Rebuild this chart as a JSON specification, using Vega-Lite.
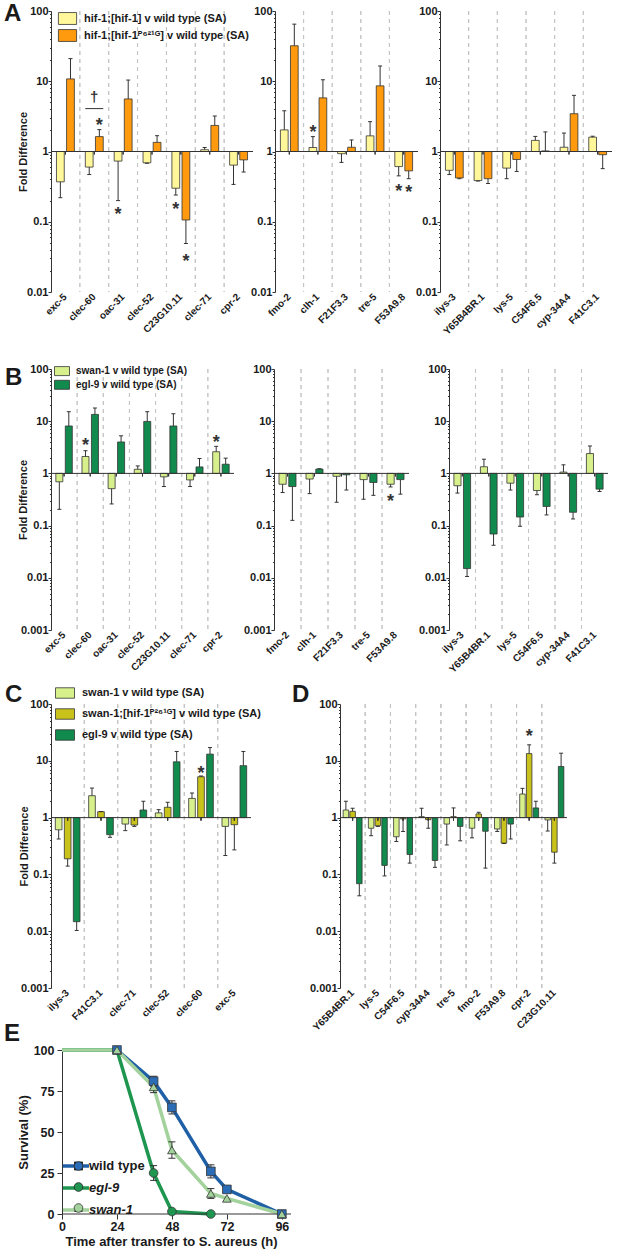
{
"$schema": "https://vega.github.io/schema/vega-lite/v6.json",
"padding": {"left": 3, "top": 2, "right": 0, "bottom": 0},
"background": "white",
"config": {
 "font": "Liberation Sans",
 "view": {"stroke": null},
 "axis": {"labelFont": "Liberation Sans", "titleFont": "Liberation Sans", "labelFontWeight": "bold", "titleFontWeight": "bold", "labelColor": "#1a1a1a", "titleColor": "#1a1a1a", "domainColor": "#333333", "tickColor": "#333333", "grid": false},
 "legend": {"labelFont": "Liberation Sans", "labelFontWeight": "bold", "labelColor": "#1a1a1a", "labelLimit": 400}
},
"datasets": {
 "A1": [
  {"gene":"exc-5","s":"h","v":0.37,"e":0.22},{"gene":"exc-5","s":"p","v":10.8,"e":21},
  {"gene":"clec-60","s":"h","v":0.6,"e":0.47},{"gene":"clec-60","s":"p","v":1.63,"e":2.05},
  {"gene":"oac-31","s":"h","v":0.73,"e":0.2},{"gene":"oac-31","s":"p","v":5.6,"e":10.4},
  {"gene":"clec-52","s":"h","v":0.69,"e":0.68},{"gene":"clec-52","s":"p","v":1.35,"e":1.68},
  {"gene":"C23G10.11","s":"h","v":0.3,"e":0.24},{"gene":"C23G10.11","s":"p","v":0.106,"e":0.049},
  {"gene":"clec-71","s":"h","v":1.06,"e":1.14},{"gene":"clec-71","s":"p","v":2.35,"e":3.2},
  {"gene":"cpr-2","s":"h","v":0.64,"e":0.34},{"gene":"cpr-2","s":"p","v":0.76,"e":0.51}],
 "A1s": [{"gene":"clec-60","s":"p","y":2.76,"t":"*"},{"gene":"oac-31","s":"h","y":0.145,"t":"*"},{"gene":"C23G10.11","s":"h","y":0.171,"t":"*"},{"gene":"C23G10.11","s":"p","y":0.031,"t":"*"}],
 "A1d": [{"gene":"clec-60","y":5.7,"t":"\u2020"}],
 "A1l": [{"gene":"clec-60","y":4.08}],
 "A2": [
  {"gene":"fmo-2","s":"h","v":2.03,"e":3.8},{"gene":"fmo-2","s":"p","v":32,"e":65},
  {"gene":"clh-1","s":"h","v":1.14,"e":1.63},{"gene":"clh-1","s":"p","v":5.8,"e":10.5},
  {"gene":"F21F3.3","s":"h","v":0.93,"e":0.7},{"gene":"F21F3.3","s":"p","v":1.15,"e":1.46},
  {"gene":"tre-5","s":"h","v":1.67,"e":2.66},{"gene":"tre-5","s":"p","v":8.6,"e":16.5},
  {"gene":"F53A9.8","s":"h","v":0.61,"e":0.45},{"gene":"F53A9.8","s":"p","v":0.53,"e":0.41}],
 "A2s": [{"gene":"clh-1","s":"h","y":2.18,"t":"*"},{"gene":"F53A9.8","s":"h","y":0.31,"t":"*"},{"gene":"F53A9.8","s":"p","y":0.3,"t":"*"}],
 "A3": [
  {"gene":"ilys-3","s":"h","v":0.54,"e":0.47},{"gene":"ilys-3","s":"p","v":0.42,"e":0.41},
  {"gene":"Y65B4BR.1","s":"h","v":0.385,"e":0.38},{"gene":"Y65B4BR.1","s":"p","v":0.41,"e":0.35},
  {"gene":"lys-5","s":"h","v":0.58,"e":0.41},{"gene":"lys-5","s":"p","v":0.77,"e":0.52},
  {"gene":"C54F6.5","s":"h","v":1.44,"e":1.64},{"gene":"C54F6.5","s":"p","v":1.02,"e":1.9},
  {"gene":"cyp-34A4","s":"h","v":1.15,"e":1.83},{"gene":"cyp-34A4","s":"p","v":3.45,"e":6.3},
  {"gene":"F41C3.1","s":"h","v":1.6,"e":1.65},{"gene":"F41C3.1","s":"p","v":0.9,"e":0.57}],
 "B1": [
  {"gene":"exc-5","s":"s","v":0.69,"e":0.205},{"gene":"exc-5","s":"g","v":8.1,"e":15.2},
  {"gene":"clec-60","s":"s","v":2.11,"e":2.72},{"gene":"clec-60","s":"g","v":13.5,"e":17.9},
  {"gene":"oac-31","s":"s","v":0.51,"e":0.26},{"gene":"oac-31","s":"g","v":4.0,"e":5.25},
  {"gene":"clec-52","s":"s","v":1.2,"e":1.39},{"gene":"clec-52","s":"g","v":9.9,"e":15.2},
  {"gene":"C23G10.11","s":"s","v":0.86,"e":0.56},{"gene":"C23G10.11","s":"g","v":8.1,"e":13.9},
  {"gene":"clec-71","s":"s","v":0.75,"e":0.56},{"gene":"clec-71","s":"g","v":1.33,"e":1.93},
  {"gene":"cpr-2","s":"s","v":2.6,"e":3.3},{"gene":"cpr-2","s":"g","v":1.5,"e":1.96}],
 "B1s": [{"gene":"clec-60","s":"s","y":4.26,"t":"*"},{"gene":"cpr-2","s":"s","y":4.8,"t":"*"}],
 "B2": [
  {"gene":"fmo-2","s":"s","v":0.62,"e":0.43},{"gene":"fmo-2","s":"g","v":0.56,"e":0.126},
  {"gene":"clh-1","s":"s","v":0.78,"e":0.41},{"gene":"clh-1","s":"g","v":1.21,"e":1.23},
  {"gene":"F21F3.3","s":"s","v":0.88,"e":0.28},{"gene":"F21F3.3","s":"g","v":0.94,"e":0.48},
  {"gene":"tre-5","s":"s","v":0.76,"e":0.32},{"gene":"tre-5","s":"g","v":0.67,"e":0.38},
  {"gene":"F53A9.8","s":"s","v":0.62,"e":0.55},{"gene":"F53A9.8","s":"g","v":0.76,"e":0.4}],
 "B2s": [{"gene":"F53A9.8","s":"s","y":0.35,"t":"*"}],
 "B3": [
  {"gene":"ilys-3","s":"s","v":0.58,"e":0.42},{"gene":"ilys-3","s":"g","v":0.015,"e":0.0106},
  {"gene":"Y65B4BR.1","s":"s","v":1.34,"e":1.87},{"gene":"Y65B4BR.1","s":"g","v":0.069,"e":0.042},
  {"gene":"lys-5","s":"s","v":0.65,"e":0.48},{"gene":"lys-5","s":"g","v":0.146,"e":0.097},
  {"gene":"C54F6.5","s":"s","v":0.47,"e":0.39},{"gene":"C54F6.5","s":"g","v":0.233,"e":0.16},
  {"gene":"cyp-34A4","s":"s","v":1.06,"e":1.46},{"gene":"cyp-34A4","s":"g","v":0.18,"e":0.134},
  {"gene":"F41C3.1","s":"s","v":2.4,"e":3.35},{"gene":"F41C3.1","s":"g","v":0.5,"e":0.45}],
 "C": [
  {"gene":"ilys-3","s":"s","v":0.61,"e":0.42},{"gene":"ilys-3","s":"sp","v":0.188,"e":0.14},{"gene":"ilys-3","s":"g","v":0.0147,"e":0.0103},
  {"gene":"F41C3.1","s":"s","v":2.43,"e":3.31},{"gene":"F41C3.1","s":"sp","v":1.27,"e":1.28},{"gene":"F41C3.1","s":"g","v":0.5,"e":0.45},
  {"gene":"clec-71","s":"s","v":0.77,"e":0.59},{"gene":"clec-71","s":"sp","v":0.74,"e":0.7},{"gene":"clec-71","s":"g","v":1.36,"e":1.94},
  {"gene":"clec-52","s":"s","v":1.21,"e":1.38},{"gene":"clec-52","s":"sp","v":1.52,"e":1.86},{"gene":"clec-52","s":"g","v":9.6,"e":14.6},
  {"gene":"clec-60","s":"s","v":2.18,"e":2.71},{"gene":"clec-60","s":"sp","v":5.24,"e":5.4},{"gene":"clec-60","s":"g","v":13.1,"e":17.1},
  {"gene":"exc-5","s":"s","v":0.7,"e":0.215},{"gene":"exc-5","s":"sp","v":0.75,"e":0.27},{"gene":"exc-5","s":"g","v":8.2,"e":14.6}],
 "Cs": [{"gene":"clec-60","s":"sp","y":7.15,"t":"*"}],
 "D": [
  {"gene":"Y65B4BR.1","s":"s","v":1.36,"e":1.94},{"gene":"Y65B4BR.1","s":"sp","v":1.29,"e":1.46},{"gene":"Y65B4BR.1","s":"g","v":0.0686,"e":0.042},
  {"gene":"lys-5","s":"s","v":0.65,"e":0.48},{"gene":"lys-5","s":"sp","v":0.72,"e":0.7},{"gene":"lys-5","s":"g","v":0.144,"e":0.094},
  {"gene":"C54F6.5","s":"s","v":0.46,"e":0.38},{"gene":"C54F6.5","s":"sp","v":0.95,"e":0.57},{"gene":"C54F6.5","s":"g","v":0.224,"e":0.158},
  {"gene":"cyp-34A4","s":"s","v":1.04,"e":1.46},{"gene":"cyp-34A4","s":"sp","v":0.92,"e":0.65},{"gene":"cyp-34A4","s":"g","v":0.176,"e":0.133},
  {"gene":"tre-5","s":"s","v":0.77,"e":0.33},{"gene":"tre-5","s":"sp","v":1.04,"e":1.48},{"gene":"tre-5","s":"g","v":0.7,"e":0.39},
  {"gene":"fmo-2","s":"s","v":0.65,"e":0.44},{"gene":"fmo-2","s":"sp","v":1.16,"e":1.24},{"gene":"fmo-2","s":"g","v":0.575,"e":0.129},
  {"gene":"F53A9.8","s":"s","v":0.63,"e":0.57},{"gene":"F53A9.8","s":"sp","v":0.355,"e":0.35},{"gene":"F53A9.8","s":"g","v":0.77,"e":0.42},
  {"gene":"cpr-2","s":"s","v":2.6,"e":3.27},{"gene":"cpr-2","s":"sp","v":13.4,"e":19.1},{"gene":"cpr-2","s":"g","v":1.48,"e":1.94},
  {"gene":"C23G10.11","s":"s","v":0.91,"e":0.58},{"gene":"C23G10.11","s":"sp","v":0.246,"e":0.158},{"gene":"C23G10.11","s":"g","v":7.94,"e":13.6}],
 "Ds": [{"gene":"cpr-2","s":"sp","y":31.5,"t":"*"}],
 "Eline": [
  {"series":"wild type","t":0,"p":100},{"series":"wild type","t":24,"p":100},{"series":"wild type","t":40,"p":81},{"series":"wild type","t":48,"p":65},{"series":"wild type","t":65,"p":26},{"series":"wild type","t":72,"p":15},{"series":"wild type","t":96,"p":0},
  {"series":"egl-9","t":0,"p":100},{"series":"egl-9","t":24,"p":100},{"series":"egl-9","t":40,"p":25},{"series":"egl-9","t":48,"p":1.5},{"series":"egl-9","t":65,"p":0},
  {"series":"swan-1","t":0,"p":100},{"series":"swan-1","t":24,"p":100},{"series":"swan-1","t":40,"p":77.5},{"series":"swan-1","t":48,"p":39},{"series":"swan-1","t":65,"p":12.5},{"series":"swan-1","t":72,"p":9.5},{"series":"swan-1","t":96,"p":0}],
 "Epts": [
  {"series":"wild type","t":24,"p":100},{"series":"wild type","t":40,"p":81},{"series":"wild type","t":48,"p":65},{"series":"wild type","t":65,"p":26},{"series":"wild type","t":72,"p":15},{"series":"wild type","t":96,"p":0},
  {"series":"egl-9","t":40,"p":25},{"series":"egl-9","t":48,"p":1.5},{"series":"egl-9","t":65,"p":0},
  {"series":"swan-1","t":24,"p":100},{"series":"swan-1","t":40,"p":77.5},{"series":"swan-1","t":48,"p":39},{"series":"swan-1","t":65,"p":12.5},{"series":"swan-1","t":72,"p":9.5},{"series":"swan-1","t":96,"p":0}],
 "Eerr": [
  {"t":40,"lo":78,"hi":84},{"t":48,"lo":61,"hi":69},{"t":65,"lo":22,"hi":30},{"t":72,"lo":13,"hi":17},
  {"t":40,"lo":20.5,"hi":29.5},
  {"t":40,"lo":74,"hi":81},{"t":48,"lo":34,"hi":44},{"t":65,"lo":9.5,"hi":15.5}]
},
"resolve": {"scale": {"fill": "independent", "stroke": "independent", "shape": "independent", "xOffset": "independent", "x": "independent", "y": "independent"}},
"spacing": 8,
"vconcat": [
{
"spacing": 26,
"resolve": {"scale": {"fill": "independent", "stroke": "independent", "shape": "independent", "xOffset": "independent", "x": "independent", "y": "independent"}},
"vconcat": [
{
"hconcat": [
{
 "width": 202, "height": 281,
 "layer": [
  {"data": {"name": "A1"}, "transform": [{"filter": "datum.gene != 'exc-5'"}], "mark": {"type": "rule", "color": "#c4c4c4", "strokeDash": [4, 4], "strokeWidth": 1},
   "encoding": {"x": {"field": "gene", "type": "nominal", "bandPosition": 0, "scale": {"domain": ["exc-5","clec-60","oac-31","clec-52","C23G10.11","clec-71","cpr-2"], "paddingInner": 0, "paddingOuter": 0}}}},
  {"data": {"name": "A1"}, "mark": {"type": "bar", "stroke": "#333333", "strokeWidth": 0.8},
   "encoding": {
    "x": {"field": "gene", "type": "nominal", "scale": {"domain": ["exc-5","clec-60","oac-31","clec-52","C23G10.11","clec-71","cpr-2"], "paddingInner": 0, "paddingOuter": 0}, "axis": {"title": null, "labelAngle": -45, "labelFontSize": 10, "ticks": false, "domain": false, "labelPadding": 3, "labelOverlap": false}},
    "xOffset": {"field": "s", "type": "nominal", "scale": {"domain": ["h","p"], "paddingInner": 0.23, "paddingOuter": 0.54}},
    "y": {"field": "v", "type": "quantitative", "scale": {"type": "log", "domain": [0.01, 100], "nice": false},
      "axis": {"title": "Fold Difference", "titleFontSize": 11, "titleX": -23, "values": [0.01,0.02,0.03,0.04,0.05,0.06,0.07,0.08,0.09,0.1,0.2,0.3,0.4,0.5,0.6,0.7,0.8,0.9,1,2,3,4,5,6,7,8,9,10,20,30,40,50,60,70,80,90,100], "format": "~g", "labelExpr": "indexof(['0.001','0.01','0.1','1','10','100'], datum.label) >= 0 ? datum.label : ''", "tickSize": {"condition": {"test": "indexof([0.001,0.01,0.1,1,10,100], datum.value) >= 0", "value": 3}, "value": 1.5}, "labelPadding": 0, "labelFontSize": 11, "labelOverlap": false}},
    "y2": {"datum": 1},
    "fill": {"field": "s", "type": "nominal", "scale": {"domain": ["h","p"], "range": ["#FFF799","#FF9A0E"]},
      "legend": {"title": null, "orient": "none", "legendX": 9, "legendY": 0, "symbolType": "M-1.3,-0.85H1.3V0.85H-1.3Z", "symbolSize": 196, "symbolStrokeColor": "#333333", "symbolStrokeWidth": 0.8, "symbolOpacity": 1, "labelFontSize": 11, "labelOffset": 9, "rowPadding": 0, "padding": 0,
        "labelExpr": "datum.label == 'h' ? 'hif-1;[hif-1] v wild type (SA)' : 'hif-1;[hif-1\u1d3e\u2076\u00b2\u00b9\u1d33] v wild type (SA)'"}}}},
  {"data": {"name": "A1"}, "mark": {"type": "rule", "color": "#333333", "strokeWidth": 1},
   "encoding": {"x": {"field": "gene", "type": "nominal", "scale": {"domain": ["exc-5","clec-60","oac-31","clec-52","C23G10.11","clec-71","cpr-2"], "paddingInner": 0, "paddingOuter": 0}}, "xOffset": {"field": "s", "type": "nominal", "scale": {"domain": ["h","p"], "paddingInner": 0.23, "paddingOuter": 0.54}}, "y": {"field": "v", "type": "quantitative", "scale": {"type": "log", "domain": [0.01, 100], "nice": false}}, "y2": {"field": "e"}}},
  {"data": {"name": "A1"}, "mark": {"type": "point", "shape": "M-1,0H1", "size": 16, "stroke": "#333333", "strokeWidth": 1, "filled": false, "opacity": 1},
   "encoding": {"x": {"field": "gene", "type": "nominal", "scale": {"domain": ["exc-5","clec-60","oac-31","clec-52","C23G10.11","clec-71","cpr-2"], "paddingInner": 0, "paddingOuter": 0}}, "xOffset": {"field": "s", "type": "nominal", "scale": {"domain": ["h","p"], "paddingInner": 0.23, "paddingOuter": 0.54}}, "y": {"field": "e", "type": "quantitative", "scale": {"type": "log", "domain": [0.01, 100], "nice": false}}}},
  {"data": {"values": [{}]}, "mark": {"type": "rule", "color": "#333333", "strokeWidth": 1},
   "encoding": {"y": {"datum": 1, "type": "quantitative", "scale": {"type": "log", "domain": [0.01, 100], "nice": false}}}},
  {"data": {"name": "A1"}, "mark": {"type": "rule", "color": "#333333", "strokeWidth": 1},
   "encoding": {"x": {"field": "gene", "type": "nominal", "scale": {"domain": ["exc-5","clec-60","oac-31","clec-52","C23G10.11","clec-71","cpr-2"], "paddingInner": 0, "paddingOuter": 0}}, "y": {"datum": 1, "type": "quantitative", "scale": {"type": "log", "domain": [0.01, 100], "nice": false}}, "y2": {"datum": 0.906}}},
  {"data": {"name": "A1s"}, "mark": {"type": "text", "fontSize": 18, "fontWeight": "bold", "font": "Liberation Sans", "color": "#333333", "baseline": "alphabetic", "dy": 10},
   "encoding": {"x": {"field": "gene", "type": "nominal", "scale": {"domain": ["exc-5","clec-60","oac-31","clec-52","C23G10.11","clec-71","cpr-2"], "paddingInner": 0, "paddingOuter": 0}}, "xOffset": {"field": "s", "type": "nominal", "scale": {"domain": ["h","p"], "paddingInner": 0.23, "paddingOuter": 0.54}}, "y": {"field": "y", "type": "quantitative", "scale": {"type": "log", "domain": [0.01, 100], "nice": false}}, "text": {"field": "t"}}},
  {"data": {"name": "A1d"}, "mark": {"type": "text", "fontSize": 15, "fontWeight": "bold", "font": "Liberation Sans", "color": "#333333", "baseline": "alphabetic", "dy": 4},
   "encoding": {"x": {"field": "gene", "type": "nominal", "scale": {"domain": ["exc-5","clec-60","oac-31","clec-52","C23G10.11","clec-71","cpr-2"], "paddingInner": 0, "paddingOuter": 0}}, "y": {"field": "y", "type": "quantitative", "scale": {"type": "log", "domain": [0.01, 100], "nice": false}}, "text": {"field": "t"}}},
  {"data": {"name": "A1l"}, "mark": {"type": "point", "shape": "M-1,0H1", "size": 324, "stroke": "#333333", "strokeWidth": 1, "filled": false, "opacity": 1},
   "encoding": {"x": {"field": "gene", "type": "nominal", "scale": {"domain": ["exc-5","clec-60","oac-31","clec-52","C23G10.11","clec-71","cpr-2"], "paddingInner": 0, "paddingOuter": 0}}, "y": {"field": "y", "type": "quantitative", "scale": {"type": "log", "domain": [0.01, 100], "nice": false}}}},
  {"data": {"values": [{}]}, "mark": {"type": "text", "text": "A", "font": "Liberation Sans", "fontSize": 24, "fontWeight": "bold", "color": "#1a1a1a", "align": "left", "baseline": "alphabetic", "dx": -61.4, "dy": 10},
   "encoding": {"x": {"datum": "exc-5", "type": "nominal", "scale": {"domain": ["exc-5","clec-60","oac-31","clec-52","C23G10.11","clec-71","cpr-2"], "paddingInner": 0, "paddingOuter": 0}}, "y": {"datum": 100, "type": "quantitative", "scale": {"type": "log", "domain": [0.01, 100], "nice": false}}}}
 ]
},
{
 "width": 143, "height": 281,
 "layer": [
  {"data": {"name": "A2"}, "transform": [{"filter": "datum.gene != 'fmo-2'"}], "mark": {"type": "rule", "color": "#c4c4c4", "strokeDash": [4, 4], "strokeWidth": 1},
   "encoding": {"x": {"field": "gene", "type": "nominal", "bandPosition": 0, "scale": {"domain": ["fmo-2","clh-1","F21F3.3","tre-5","F53A9.8"], "paddingInner": 0, "paddingOuter": 0}}}},
  {"data": {"name": "A2"}, "mark": {"type": "bar", "stroke": "#333333", "strokeWidth": 0.8},
   "encoding": {
    "x": {"field": "gene", "type": "nominal", "scale": {"domain": ["fmo-2","clh-1","F21F3.3","tre-5","F53A9.8"], "paddingInner": 0, "paddingOuter": 0}, "axis": {"title": null, "labelAngle": -45, "labelFontSize": 10, "ticks": false, "domain": false, "labelPadding": 3, "labelOverlap": false}},
    "xOffset": {"field": "s", "type": "nominal", "scale": {"domain": ["h","p"], "paddingInner": 0.23, "paddingOuter": 0.54}},
    "y": {"field": "v", "type": "quantitative", "scale": {"type": "log", "domain": [0.01, 100], "nice": false},
      "axis": {"title": null, "values": [0.01,0.02,0.03,0.04,0.05,0.06,0.07,0.08,0.09,0.1,0.2,0.3,0.4,0.5,0.6,0.7,0.8,0.9,1,2,3,4,5,6,7,8,9,10,20,30,40,50,60,70,80,90,100], "format": "~g", "labelExpr": "indexof(['0.001','0.01','0.1','1','10','100'], datum.label) >= 0 ? datum.label : ''", "tickSize": {"condition": {"test": "indexof([0.001,0.01,0.1,1,10,100], datum.value) >= 0", "value": 3}, "value": 1.5}, "labelPadding": 0, "labelFontSize": 11, "labelOverlap": false}},
    "y2": {"datum": 1},
    "fill": {"field": "s", "type": "nominal", "scale": {"domain": ["h","p"], "range": ["#FFF799","#FF9A0E"]}, "legend": null}}},
  {"data": {"name": "A2"}, "mark": {"type": "rule", "color": "#333333", "strokeWidth": 1},
   "encoding": {"x": {"field": "gene", "type": "nominal", "scale": {"domain": ["fmo-2","clh-1","F21F3.3","tre-5","F53A9.8"], "paddingInner": 0, "paddingOuter": 0}}, "xOffset": {"field": "s", "type": "nominal", "scale": {"domain": ["h","p"], "paddingInner": 0.23, "paddingOuter": 0.54}}, "y": {"field": "v", "type": "quantitative", "scale": {"type": "log", "domain": [0.01, 100], "nice": false}}, "y2": {"field": "e"}}},
  {"data": {"name": "A2"}, "mark": {"type": "point", "shape": "M-1,0H1", "size": 16, "stroke": "#333333", "strokeWidth": 1, "filled": false, "opacity": 1},
   "encoding": {"x": {"field": "gene", "type": "nominal", "scale": {"domain": ["fmo-2","clh-1","F21F3.3","tre-5","F53A9.8"], "paddingInner": 0, "paddingOuter": 0}}, "xOffset": {"field": "s", "type": "nominal", "scale": {"domain": ["h","p"], "paddingInner": 0.23, "paddingOuter": 0.54}}, "y": {"field": "e", "type": "quantitative", "scale": {"type": "log", "domain": [0.01, 100], "nice": false}}}},
  {"data": {"values": [{}]}, "mark": {"type": "rule", "color": "#333333", "strokeWidth": 1},
   "encoding": {"y": {"datum": 1, "type": "quantitative", "scale": {"type": "log", "domain": [0.01, 100], "nice": false}}}},
  {"data": {"name": "A2"}, "mark": {"type": "rule", "color": "#333333", "strokeWidth": 1},
   "encoding": {"x": {"field": "gene", "type": "nominal", "scale": {"domain": ["fmo-2","clh-1","F21F3.3","tre-5","F53A9.8"], "paddingInner": 0, "paddingOuter": 0}}, "y": {"datum": 1, "type": "quantitative", "scale": {"type": "log", "domain": [0.01, 100], "nice": false}}, "y2": {"datum": 0.906}}},
  {"data": {"name": "A2s"}, "mark": {"type": "text", "fontSize": 18, "fontWeight": "bold", "font": "Liberation Sans", "color": "#333333", "baseline": "alphabetic", "dy": 10},
   "encoding": {"x": {"field": "gene", "type": "nominal", "scale": {"domain": ["fmo-2","clh-1","F21F3.3","tre-5","F53A9.8"], "paddingInner": 0, "paddingOuter": 0}}, "xOffset": {"field": "s", "type": "nominal", "scale": {"domain": ["h","p"], "paddingInner": 0.23, "paddingOuter": 0.54}}, "y": {"field": "y", "type": "quantitative", "scale": {"type": "log", "domain": [0.01, 100], "nice": false}}, "text": {"field": "t"}}}
 ]
},
{
 "width": 172, "height": 281,
 "layer": [
  {"data": {"name": "A3"}, "transform": [{"filter": "datum.gene != 'ilys-3'"}], "mark": {"type": "rule", "color": "#c4c4c4", "strokeDash": [4, 4], "strokeWidth": 1},
   "encoding": {"x": {"field": "gene", "type": "nominal", "bandPosition": 0, "scale": {"domain": ["ilys-3","Y65B4BR.1","lys-5","C54F6.5","cyp-34A4","F41C3.1"], "paddingInner": 0, "paddingOuter": 0}}}},
  {"data": {"name": "A3"}, "mark": {"type": "bar", "stroke": "#333333", "strokeWidth": 0.8},
   "encoding": {
    "x": {"field": "gene", "type": "nominal", "scale": {"domain": ["ilys-3","Y65B4BR.1","lys-5","C54F6.5","cyp-34A4","F41C3.1"], "paddingInner": 0, "paddingOuter": 0}, "axis": {"title": null, "labelAngle": -45, "labelFontSize": 10, "ticks": false, "domain": false, "labelPadding": 3, "labelOverlap": false}},
    "xOffset": {"field": "s", "type": "nominal", "scale": {"domain": ["h","p"], "paddingInner": 0.23, "paddingOuter": 0.54}},
    "y": {"field": "v", "type": "quantitative", "scale": {"type": "log", "domain": [0.01, 100], "nice": false},
      "axis": {"title": null, "values": [0.01,0.02,0.03,0.04,0.05,0.06,0.07,0.08,0.09,0.1,0.2,0.3,0.4,0.5,0.6,0.7,0.8,0.9,1,2,3,4,5,6,7,8,9,10,20,30,40,50,60,70,80,90,100], "format": "~g", "labelExpr": "indexof(['0.001','0.01','0.1','1','10','100'], datum.label) >= 0 ? datum.label : ''", "tickSize": {"condition": {"test": "indexof([0.001,0.01,0.1,1,10,100], datum.value) >= 0", "value": 3}, "value": 1.5}, "labelPadding": 0, "labelFontSize": 11, "labelOverlap": false}},
    "y2": {"datum": 1},
    "fill": {"field": "s", "type": "nominal", "scale": {"domain": ["h","p"], "range": ["#FFF799","#FF9A0E"]}, "legend": null}}},
  {"data": {"name": "A3"}, "mark": {"type": "rule", "color": "#333333", "strokeWidth": 1},
   "encoding": {"x": {"field": "gene", "type": "nominal", "scale": {"domain": ["ilys-3","Y65B4BR.1","lys-5","C54F6.5","cyp-34A4","F41C3.1"], "paddingInner": 0, "paddingOuter": 0}}, "xOffset": {"field": "s", "type": "nominal", "scale": {"domain": ["h","p"], "paddingInner": 0.23, "paddingOuter": 0.54}}, "y": {"field": "v", "type": "quantitative", "scale": {"type": "log", "domain": [0.01, 100], "nice": false}}, "y2": {"field": "e"}}},
  {"data": {"name": "A3"}, "mark": {"type": "point", "shape": "M-1,0H1", "size": 16, "stroke": "#333333", "strokeWidth": 1, "filled": false, "opacity": 1},
   "encoding": {"x": {"field": "gene", "type": "nominal", "scale": {"domain": ["ilys-3","Y65B4BR.1","lys-5","C54F6.5","cyp-34A4","F41C3.1"], "paddingInner": 0, "paddingOuter": 0}}, "xOffset": {"field": "s", "type": "nominal", "scale": {"domain": ["h","p"], "paddingInner": 0.23, "paddingOuter": 0.54}}, "y": {"field": "e", "type": "quantitative", "scale": {"type": "log", "domain": [0.01, 100], "nice": false}}}},
  {"data": {"values": [{}]}, "mark": {"type": "rule", "color": "#333333", "strokeWidth": 1},
   "encoding": {"y": {"datum": 1, "type": "quantitative", "scale": {"type": "log", "domain": [0.01, 100], "nice": false}}}},
  {"data": {"name": "A3"}, "mark": {"type": "rule", "color": "#333333", "strokeWidth": 1},
   "encoding": {"x": {"field": "gene", "type": "nominal", "scale": {"domain": ["ilys-3","Y65B4BR.1","lys-5","C54F6.5","cyp-34A4","F41C3.1"], "paddingInner": 0, "paddingOuter": 0}}, "y": {"datum": 1, "type": "quantitative", "scale": {"type": "log", "domain": [0.01, 100], "nice": false}}, "y2": {"datum": 0.906}}}
 ]
}
],
"spacing": 22, "bounds": "flush",
"resolve": {"scale": {"fill": "independent", "stroke": "independent", "shape": "independent", "xOffset": "independent", "x": "independent", "y": "independent"}}
},
{
"hconcat": [
{
 "width": 183, "height": 261,
 "layer": [
  {"data": {"name": "B1"}, "transform": [{"filter": "datum.gene != 'exc-5'"}], "mark": {"type": "rule", "color": "#c4c4c4", "strokeDash": [4, 4], "strokeWidth": 1},
   "encoding": {"x": {"field": "gene", "type": "nominal", "bandPosition": 0, "scale": {"domain": ["exc-5","clec-60","oac-31","clec-52","C23G10.11","clec-71","cpr-2"], "paddingInner": 0, "paddingOuter": 0}}}},
  {"data": {"name": "B1"}, "mark": {"type": "bar", "stroke": "#333333", "strokeWidth": 0.8},
   "encoding": {
    "x": {"field": "gene", "type": "nominal", "scale": {"domain": ["exc-5","clec-60","oac-31","clec-52","C23G10.11","clec-71","cpr-2"], "paddingInner": 0, "paddingOuter": 0}, "axis": {"title": null, "labelAngle": -45, "labelFontSize": 10, "ticks": false, "domain": false, "labelPadding": 3, "labelOverlap": false}},
    "xOffset": {"field": "s", "type": "nominal", "scale": {"domain": ["s","g"], "paddingInner": 0.26, "paddingOuter": 0.51}},
    "y": {"field": "v", "type": "quantitative", "scale": {"type": "log", "domain": [0.001, 100], "nice": false},
      "axis": {"title": "Fold Difference", "titleFontSize": 11, "titleX": -23, "values": [0.001,0.002,0.003,0.004,0.005,0.006,0.007,0.008,0.009,0.01,0.02,0.03,0.04,0.05,0.06,0.07,0.08,0.09,0.1,0.2,0.3,0.4,0.5,0.6,0.7,0.8,0.9,1,2,3,4,5,6,7,8,9,10,20,30,40,50,60,70,80,90,100], "format": "~g", "labelExpr": "indexof(['0.001','0.01','0.1','1','10','100'], datum.label) >= 0 ? datum.label : ''", "tickSize": {"condition": {"test": "indexof([0.001,0.01,0.1,1,10,100], datum.value) >= 0", "value": 3}, "value": 1.5}, "labelPadding": 0, "labelFontSize": 11, "labelOverlap": false}},
    "y2": {"datum": 1},
    "fill": {"field": "s", "type": "nominal", "scale": {"domain": ["s","g"], "range": ["#D8F08C","#108A4D"]},
      "legend": {"title": null, "orient": "none", "legendX": 4.5, "legendY": -4.4, "symbolType": "M-1.25,-0.75H1.25V0.75H-1.25Z", "symbolSize": 144, "symbolStrokeColor": "#333333", "symbolStrokeWidth": 0.8, "symbolOpacity": 1, "labelFontSize": 10, "labelOffset": 7.5, "rowPadding": 0.7, "padding": 0,
        "labelExpr": "datum.label == 's' ? 'swan-1 v wild type (SA)' : 'egl-9 v wild type (SA)'"}}}},
  {"data": {"name": "B1"}, "mark": {"type": "rule", "color": "#333333", "strokeWidth": 1},
   "encoding": {"x": {"field": "gene", "type": "nominal", "scale": {"domain": ["exc-5","clec-60","oac-31","clec-52","C23G10.11","clec-71","cpr-2"], "paddingInner": 0, "paddingOuter": 0}}, "xOffset": {"field": "s", "type": "nominal", "scale": {"domain": ["s","g"], "paddingInner": 0.26, "paddingOuter": 0.51}}, "y": {"field": "v", "type": "quantitative", "scale": {"type": "log", "domain": [0.001, 100], "nice": false}}, "y2": {"field": "e"}}},
  {"data": {"name": "B1"}, "mark": {"type": "point", "shape": "M-1,0H1", "size": 16, "stroke": "#333333", "strokeWidth": 1, "filled": false, "opacity": 1},
   "encoding": {"x": {"field": "gene", "type": "nominal", "scale": {"domain": ["exc-5","clec-60","oac-31","clec-52","C23G10.11","clec-71","cpr-2"], "paddingInner": 0, "paddingOuter": 0}}, "xOffset": {"field": "s", "type": "nominal", "scale": {"domain": ["s","g"], "paddingInner": 0.26, "paddingOuter": 0.51}}, "y": {"field": "e", "type": "quantitative", "scale": {"type": "log", "domain": [0.001, 100], "nice": false}}}},
  {"data": {"values": [{}]}, "mark": {"type": "rule", "color": "#333333", "strokeWidth": 1},
   "encoding": {"y": {"datum": 1, "type": "quantitative", "scale": {"type": "log", "domain": [0.001, 100], "nice": false}}}},
  {"data": {"name": "B1"}, "mark": {"type": "rule", "color": "#333333", "strokeWidth": 1},
   "encoding": {"x": {"field": "gene", "type": "nominal", "scale": {"domain": ["exc-5","clec-60","oac-31","clec-52","C23G10.11","clec-71","cpr-2"], "paddingInner": 0, "paddingOuter": 0}}, "y": {"datum": 1, "type": "quantitative", "scale": {"type": "log", "domain": [0.001, 100], "nice": false}}, "y2": {"datum": 0.875}}},
  {"data": {"name": "B1s"}, "mark": {"type": "text", "fontSize": 18, "fontWeight": "bold", "font": "Liberation Sans", "color": "#333333", "baseline": "alphabetic", "dy": 10},
   "encoding": {"x": {"field": "gene", "type": "nominal", "scale": {"domain": ["exc-5","clec-60","oac-31","clec-52","C23G10.11","clec-71","cpr-2"], "paddingInner": 0, "paddingOuter": 0}}, "xOffset": {"field": "s", "type": "nominal", "scale": {"domain": ["s","g"], "paddingInner": 0.26, "paddingOuter": 0.51}}, "y": {"field": "y", "type": "quantitative", "scale": {"type": "log", "domain": [0.001, 100], "nice": false}}, "text": {"field": "t"}}},
  {"data": {"values": [{}]}, "mark": {"type": "text", "text": "B", "font": "Liberation Sans", "fontSize": 24, "fontWeight": "bold", "color": "#1a1a1a", "align": "left", "baseline": "alphabetic", "dx": -59.1, "dy": 16},
   "encoding": {"x": {"datum": "exc-5", "type": "nominal", "scale": {"domain": ["exc-5","clec-60","oac-31","clec-52","C23G10.11","clec-71","cpr-2"], "paddingInner": 0, "paddingOuter": 0}}, "y": {"datum": 100, "type": "quantitative", "scale": {"type": "log", "domain": [0.001, 100], "nice": false}}}}
 ]
},
{
 "width": 135, "height": 261,
 "layer": [
  {"data": {"name": "B2"}, "transform": [{"filter": "datum.gene != 'fmo-2'"}], "mark": {"type": "rule", "color": "#c4c4c4", "strokeDash": [4, 4], "strokeWidth": 1},
   "encoding": {"x": {"field": "gene", "type": "nominal", "bandPosition": 0, "scale": {"domain": ["fmo-2","clh-1","F21F3.3","tre-5","F53A9.8"], "paddingInner": 0, "paddingOuter": 0}}}},
  {"data": {"name": "B2"}, "mark": {"type": "bar", "stroke": "#333333", "strokeWidth": 0.8},
   "encoding": {
    "x": {"field": "gene", "type": "nominal", "scale": {"domain": ["fmo-2","clh-1","F21F3.3","tre-5","F53A9.8"], "paddingInner": 0, "paddingOuter": 0}, "axis": {"title": null, "labelAngle": -45, "labelFontSize": 10, "ticks": false, "domain": false, "labelPadding": 3, "labelOverlap": false}},
    "xOffset": {"field": "s", "type": "nominal", "scale": {"domain": ["s","g"], "paddingInner": 0.26, "paddingOuter": 0.51}},
    "y": {"field": "v", "type": "quantitative", "scale": {"type": "log", "domain": [0.001, 100], "nice": false},
      "axis": {"title": null, "values": [0.001,0.002,0.003,0.004,0.005,0.006,0.007,0.008,0.009,0.01,0.02,0.03,0.04,0.05,0.06,0.07,0.08,0.09,0.1,0.2,0.3,0.4,0.5,0.6,0.7,0.8,0.9,1,2,3,4,5,6,7,8,9,10,20,30,40,50,60,70,80,90,100], "format": "~g", "labelExpr": "indexof(['0.001','0.01','0.1','1','10','100'], datum.label) >= 0 ? datum.label : ''", "tickSize": {"condition": {"test": "indexof([0.001,0.01,0.1,1,10,100], datum.value) >= 0", "value": 3}, "value": 1.5}, "labelPadding": 0, "labelFontSize": 11, "labelOverlap": false}},
    "y2": {"datum": 1},
    "fill": {"field": "s", "type": "nominal", "scale": {"domain": ["s","g"], "range": ["#D8F08C","#108A4D"]}, "legend": null}}},
  {"data": {"name": "B2"}, "mark": {"type": "rule", "color": "#333333", "strokeWidth": 1},
   "encoding": {"x": {"field": "gene", "type": "nominal", "scale": {"domain": ["fmo-2","clh-1","F21F3.3","tre-5","F53A9.8"], "paddingInner": 0, "paddingOuter": 0}}, "xOffset": {"field": "s", "type": "nominal", "scale": {"domain": ["s","g"], "paddingInner": 0.26, "paddingOuter": 0.51}}, "y": {"field": "v", "type": "quantitative", "scale": {"type": "log", "domain": [0.001, 100], "nice": false}}, "y2": {"field": "e"}}},
  {"data": {"name": "B2"}, "mark": {"type": "point", "shape": "M-1,0H1", "size": 16, "stroke": "#333333", "strokeWidth": 1, "filled": false, "opacity": 1},
   "encoding": {"x": {"field": "gene", "type": "nominal", "scale": {"domain": ["fmo-2","clh-1","F21F3.3","tre-5","F53A9.8"], "paddingInner": 0, "paddingOuter": 0}}, "xOffset": {"field": "s", "type": "nominal", "scale": {"domain": ["s","g"], "paddingInner": 0.26, "paddingOuter": 0.51}}, "y": {"field": "e", "type": "quantitative", "scale": {"type": "log", "domain": [0.001, 100], "nice": false}}}},
  {"data": {"values": [{}]}, "mark": {"type": "rule", "color": "#333333", "strokeWidth": 1},
   "encoding": {"y": {"datum": 1, "type": "quantitative", "scale": {"type": "log", "domain": [0.001, 100], "nice": false}}}},
  {"data": {"name": "B2"}, "mark": {"type": "rule", "color": "#333333", "strokeWidth": 1},
   "encoding": {"x": {"field": "gene", "type": "nominal", "scale": {"domain": ["fmo-2","clh-1","F21F3.3","tre-5","F53A9.8"], "paddingInner": 0, "paddingOuter": 0}}, "y": {"datum": 1, "type": "quantitative", "scale": {"type": "log", "domain": [0.001, 100], "nice": false}}, "y2": {"datum": 0.875}}},
  {"data": {"name": "B2s"}, "mark": {"type": "text", "fontSize": 18, "fontWeight": "bold", "font": "Liberation Sans", "color": "#333333", "baseline": "alphabetic", "dy": 10},
   "encoding": {"x": {"field": "gene", "type": "nominal", "scale": {"domain": ["fmo-2","clh-1","F21F3.3","tre-5","F53A9.8"], "paddingInner": 0, "paddingOuter": 0}}, "xOffset": {"field": "s", "type": "nominal", "scale": {"domain": ["s","g"], "paddingInner": 0.26, "paddingOuter": 0.51}}, "y": {"field": "y", "type": "quantitative", "scale": {"type": "log", "domain": [0.001, 100], "nice": false}}, "text": {"field": "t"}}}
 ]
},
{
 "width": 159, "height": 261,
 "layer": [
  {"data": {"name": "B3"}, "transform": [{"filter": "datum.gene != 'ilys-3'"}], "mark": {"type": "rule", "color": "#c4c4c4", "strokeDash": [4, 4], "strokeWidth": 1},
   "encoding": {"x": {"field": "gene", "type": "nominal", "bandPosition": 0, "scale": {"domain": ["ilys-3","Y65B4BR.1","lys-5","C54F6.5","cyp-34A4","F41C3.1"], "paddingInner": 0, "paddingOuter": 0}}}},
  {"data": {"name": "B3"}, "mark": {"type": "bar", "stroke": "#333333", "strokeWidth": 0.8},
   "encoding": {
    "x": {"field": "gene", "type": "nominal", "scale": {"domain": ["ilys-3","Y65B4BR.1","lys-5","C54F6.5","cyp-34A4","F41C3.1"], "paddingInner": 0, "paddingOuter": 0}, "axis": {"title": null, "labelAngle": -45, "labelFontSize": 10, "ticks": false, "domain": false, "labelPadding": 3, "labelOverlap": false}},
    "xOffset": {"field": "s", "type": "nominal", "scale": {"domain": ["s","g"], "paddingInner": 0.26, "paddingOuter": 0.51}},
    "y": {"field": "v", "type": "quantitative", "scale": {"type": "log", "domain": [0.001, 100], "nice": false},
      "axis": {"title": null, "values": [0.001,0.002,0.003,0.004,0.005,0.006,0.007,0.008,0.009,0.01,0.02,0.03,0.04,0.05,0.06,0.07,0.08,0.09,0.1,0.2,0.3,0.4,0.5,0.6,0.7,0.8,0.9,1,2,3,4,5,6,7,8,9,10,20,30,40,50,60,70,80,90,100], "format": "~g", "labelExpr": "indexof(['0.001','0.01','0.1','1','10','100'], datum.label) >= 0 ? datum.label : ''", "tickSize": {"condition": {"test": "indexof([0.001,0.01,0.1,1,10,100], datum.value) >= 0", "value": 3}, "value": 1.5}, "labelPadding": 0, "labelFontSize": 11, "labelOverlap": false}},
    "y2": {"datum": 1},
    "fill": {"field": "s", "type": "nominal", "scale": {"domain": ["s","g"], "range": ["#D8F08C","#108A4D"]}, "legend": null}}},
  {"data": {"name": "B3"}, "mark": {"type": "rule", "color": "#333333", "strokeWidth": 1},
   "encoding": {"x": {"field": "gene", "type": "nominal", "scale": {"domain": ["ilys-3","Y65B4BR.1","lys-5","C54F6.5","cyp-34A4","F41C3.1"], "paddingInner": 0, "paddingOuter": 0}}, "xOffset": {"field": "s", "type": "nominal", "scale": {"domain": ["s","g"], "paddingInner": 0.26, "paddingOuter": 0.51}}, "y": {"field": "v", "type": "quantitative", "scale": {"type": "log", "domain": [0.001, 100], "nice": false}}, "y2": {"field": "e"}}},
  {"data": {"name": "B3"}, "mark": {"type": "point", "shape": "M-1,0H1", "size": 16, "stroke": "#333333", "strokeWidth": 1, "filled": false, "opacity": 1},
   "encoding": {"x": {"field": "gene", "type": "nominal", "scale": {"domain": ["ilys-3","Y65B4BR.1","lys-5","C54F6.5","cyp-34A4","F41C3.1"], "paddingInner": 0, "paddingOuter": 0}}, "xOffset": {"field": "s", "type": "nominal", "scale": {"domain": ["s","g"], "paddingInner": 0.26, "paddingOuter": 0.51}}, "y": {"field": "e", "type": "quantitative", "scale": {"type": "log", "domain": [0.001, 100], "nice": false}}}},
  {"data": {"values": [{}]}, "mark": {"type": "rule", "color": "#333333", "strokeWidth": 1},
   "encoding": {"y": {"datum": 1, "type": "quantitative", "scale": {"type": "log", "domain": [0.001, 100], "nice": false}}}},
  {"data": {"name": "B3"}, "mark": {"type": "rule", "color": "#333333", "strokeWidth": 1},
   "encoding": {"x": {"field": "gene", "type": "nominal", "scale": {"domain": ["ilys-3","Y65B4BR.1","lys-5","C54F6.5","cyp-34A4","F41C3.1"], "paddingInner": 0, "paddingOuter": 0}}, "y": {"datum": 1, "type": "quantitative", "scale": {"type": "log", "domain": [0.001, 100], "nice": false}}, "y2": {"datum": 0.875}}}
 ]
}
],
"spacing": 40, "bounds": "flush",
"resolve": {"scale": {"fill": "independent", "stroke": "independent", "shape": "independent", "xOffset": "independent", "x": "independent", "y": "independent"}}
}
]
},
{
"hconcat": [
{
"vconcat": [
{
 "width": 200, "height": 284,
 "layer": [
  {"data": {"name": "C"}, "transform": [{"filter": "datum.gene != 'ilys-3'"}], "mark": {"type": "rule", "color": "#c4c4c4", "strokeDash": [4, 4], "strokeWidth": 1},
   "encoding": {"x": {"field": "gene", "type": "nominal", "bandPosition": 0, "scale": {"domain": ["ilys-3","F41C3.1","clec-71","clec-52","clec-60","exc-5"], "paddingInner": 0, "paddingOuter": 0}}}},
  {"data": {"name": "C"}, "mark": {"type": "bar", "stroke": "#333333", "strokeWidth": 0.8},
   "encoding": {
    "x": {"field": "gene", "type": "nominal", "scale": {"domain": ["ilys-3","F41C3.1","clec-71","clec-52","clec-60","exc-5"], "paddingInner": 0, "paddingOuter": 0}, "axis": {"title": null, "labelAngle": -45, "labelFontSize": 10, "ticks": false, "domain": false, "labelPadding": 3, "labelOverlap": false}},
    "xOffset": {"field": "s", "type": "nominal", "scale": {"domain": ["s","sp","g"], "paddingInner": 0.26, "paddingOuter": 0.48}},
    "y": {"field": "v", "type": "quantitative", "scale": {"type": "log", "domain": [0.001, 100], "nice": false},
      "axis": {"title": "Fold Difference", "titleFontSize": 11, "titleX": -22, "values": [0.001,0.002,0.003,0.004,0.005,0.006,0.007,0.008,0.009,0.01,0.02,0.03,0.04,0.05,0.06,0.07,0.08,0.09,0.1,0.2,0.3,0.4,0.5,0.6,0.7,0.8,0.9,1,2,3,4,5,6,7,8,9,10,20,30,40,50,60,70,80,90,100], "format": "~g", "labelExpr": "indexof(['0.001','0.01','0.1','1','10','100'], datum.label) >= 0 ? datum.label : ''", "tickSize": {"condition": {"test": "indexof([0.001,0.01,0.1,1,10,100], datum.value) >= 0", "value": 3}, "value": 1.5}, "labelPadding": 0, "labelFontSize": 11, "labelOverlap": false}},
    "y2": {"datum": 1},
    "fill": {"field": "s", "type": "nominal", "scale": {"domain": ["s","sp","g"], "range": ["#D8F08C","#C8C21A","#108A4D"]},
      "legend": {"title": null, "orient": "none", "legendX": 4, "legendY": -21, "symbolType": "M-1,-0.55H1V0.55H-1Z", "symbolSize": 361, "symbolStrokeColor": "#333333", "symbolStrokeWidth": 0.8, "symbolOpacity": 1, "labelFontSize": 11, "labelOffset": 7, "rowPadding": 4, "padding": 0,
        "labelExpr": "datum.label == 's' ? 'swan-1 v wild type (SA)' : datum.label == 'sp' ? 'swan-1;[hif-1\u1d3e\u00b2\u2076\u00b9\u1d33] v wild type (SA)' : 'egl-9 v wild type (SA)'"}}}},
  {"data": {"name": "C"}, "mark": {"type": "rule", "color": "#333333", "strokeWidth": 1},
   "encoding": {"x": {"field": "gene", "type": "nominal", "scale": {"domain": ["ilys-3","F41C3.1","clec-71","clec-52","clec-60","exc-5"], "paddingInner": 0, "paddingOuter": 0}}, "xOffset": {"field": "s", "type": "nominal", "scale": {"domain": ["s","sp","g"], "paddingInner": 0.26, "paddingOuter": 0.48}}, "y": {"field": "v", "type": "quantitative", "scale": {"type": "log", "domain": [0.001, 100], "nice": false}}, "y2": {"field": "e"}}},
  {"data": {"name": "C"}, "mark": {"type": "point", "shape": "M-1,0H1", "size": 16, "stroke": "#333333", "strokeWidth": 1, "filled": false, "opacity": 1},
   "encoding": {"x": {"field": "gene", "type": "nominal", "scale": {"domain": ["ilys-3","F41C3.1","clec-71","clec-52","clec-60","exc-5"], "paddingInner": 0, "paddingOuter": 0}}, "xOffset": {"field": "s", "type": "nominal", "scale": {"domain": ["s","sp","g"], "paddingInner": 0.26, "paddingOuter": 0.48}}, "y": {"field": "e", "type": "quantitative", "scale": {"type": "log", "domain": [0.001, 100], "nice": false}}}},
  {"data": {"values": [{}]}, "mark": {"type": "rule", "color": "#333333", "strokeWidth": 1},
   "encoding": {"y": {"datum": 1, "type": "quantitative", "scale": {"type": "log", "domain": [0.001, 100], "nice": false}}}},
  {"data": {"name": "C"}, "mark": {"type": "rule", "color": "#333333", "strokeWidth": 1},
   "encoding": {"x": {"field": "gene", "type": "nominal", "scale": {"domain": ["ilys-3","F41C3.1","clec-71","clec-52","clec-60","exc-5"], "paddingInner": 0, "paddingOuter": 0}}, "y": {"datum": 1, "type": "quantitative", "scale": {"type": "log", "domain": [0.001, 100], "nice": false}}, "y2": {"datum": 0.886}}},
  {"data": {"name": "Cs"}, "mark": {"type": "text", "fontSize": 18, "fontWeight": "bold", "font": "Liberation Sans", "color": "#333333", "baseline": "alphabetic", "dy": 10},
   "encoding": {"x": {"field": "gene", "type": "nominal", "scale": {"domain": ["ilys-3","F41C3.1","clec-71","clec-52","clec-60","exc-5"], "paddingInner": 0, "paddingOuter": 0}}, "xOffset": {"field": "s", "type": "nominal", "scale": {"domain": ["s","sp","g"], "paddingInner": 0.26, "paddingOuter": 0.48}}, "y": {"field": "y", "type": "quantitative", "scale": {"type": "log", "domain": [0.001, 100], "nice": false}}, "text": {"field": "t"}}},
  {"data": {"values": [{}]}, "mark": {"type": "text", "text": "C", "font": "Liberation Sans", "fontSize": 24, "fontWeight": "bold", "color": "#1a1a1a", "align": "left", "baseline": "alphabetic", "dx": -62.7, "dy": -2},
   "encoding": {"x": {"datum": "ilys-3", "type": "nominal", "scale": {"domain": ["ilys-3","F41C3.1","clec-71","clec-52","clec-60","exc-5"], "paddingInner": 0, "paddingOuter": 0}}, "y": {"datum": 100, "type": "quantitative", "scale": {"type": "log", "domain": [0.001, 100], "nice": false}}}}
 ]
},
{
 "width": 240, "height": 164,
 "layer": [
  {"data": {"name": "Eline"}, "mark": {"type": "line", "strokeWidth": 3.5},
   "encoding": {
    "x": {"field": "t", "type": "quantitative", "scale": {"domain": [-4.8, 100], "nice": false, "zero": false},
      "axis": {"title": "Time after transfer to S. aureus (h)", "titleFontSize": 13, "titlePadding": 3, "domain": false, "values": [0,12,24,36,48,60,72,84,96], "labelExpr": "datum.value % 24 == 0 ? datum.label : ''", "tickSize": {"condition": {"test": "datum.value % 24 == 0", "value": 5}, "value": 3}, "labelFontSize": 12.5, "labelPadding": 1, "labelFlush": false, "labelOverlap": false}},
    "y": {"field": "p", "type": "quantitative", "scale": {"domain": [0, 100], "nice": false},
      "axis": {"title": "Survival (%)", "titleFontSize": 13, "titlePadding": 3, "offset": -11, "values": [0,25,50,75,100], "tickSize": 5, "labelFontSize": 12.5, "labelPadding": 3}},
    "stroke": {"field": "series", "type": "nominal", "sort": ["wild type","egl-9","swan-1"], "scale": {"range": ["#1F5FA6","#1E9650","#A3D29C"]},
      "legend": {"title": null, "orient": "none", "legendX": 18.5, "legendY": 109.5, "zindex": 1, "symbolType": "M-3,0H3", "symbolSize": 75, "symbolStrokeWidth": 3.5, "labelFontSize": 13, "labelFontStyle": {"expr": "datum.label == 'wild type' ? 'normal' : 'italic'"}, "labelOffset": 6.5, "rowPadding": 7, "padding": 0}}}},
  {"data": {"values": [{}]}, "mark": {"type": "rule", "color": "#333333", "strokeWidth": 1},
   "encoding": {"x": {"datum": 0, "type": "quantitative"}, "x2": {"datum": 100}, "y": {"datum": 0, "type": "quantitative"}}},
  {"data": {"name": "Eerr"}, "mark": {"type": "rule", "color": "#333333", "strokeWidth": 1},
   "encoding": {"x": {"field": "t", "type": "quantitative"}, "y": {"field": "lo", "type": "quantitative"}, "y2": {"field": "hi"}}},
  {"data": {"name": "Eerr"}, "mark": {"type": "point", "shape": "M-1,0H1", "size": 49, "stroke": "#333333", "strokeWidth": 1, "filled": false, "opacity": 1},
   "encoding": {"x": {"field": "t", "type": "quantitative"}, "y": {"field": "lo", "type": "quantitative"}}},
  {"data": {"name": "Eerr"}, "mark": {"type": "point", "shape": "M-1,0H1", "size": 49, "stroke": "#333333", "strokeWidth": 1, "filled": false, "opacity": 1},
   "encoding": {"x": {"field": "t", "type": "quantitative"}, "y": {"field": "hi", "type": "quantitative"}}},
  {"data": {"name": "Epts"}, "mark": {"type": "point", "filled": true, "size": 75, "stroke": "#333333", "strokeWidth": 0.8, "opacity": 1},
   "encoding": {
    "x": {"field": "t", "type": "quantitative"},
    "y": {"field": "p", "type": "quantitative"},
    "fill": {"field": "series", "type": "nominal", "sort": ["wild type","egl-9","swan-1"], "scale": {"range": ["#2A6CB5","#1E9650","#A3D29C"]},
      "legend": {"title": null, "orient": "none", "legendX": 21, "legendY": 109.5, "zindex": 2, "symbolSize": 75, "symbolStrokeColor": "#333333", "symbolStrokeWidth": 0.8, "symbolOpacity": 1, "labelFontSize": 13, "labelOpacity": 0, "labelExpr": "'\u00a0'", "labelOffset": 6.5, "rowPadding": 7, "padding": 0}},
    "shape": {"field": "series", "type": "nominal", "sort": ["wild type","egl-9","swan-1"], "scale": {"range": ["square","circle","triangle-up"]},
      "legend": {"title": null, "orient": "none", "legendX": 21, "legendY": 109.5, "zindex": 2, "symbolSize": 75, "symbolStrokeColor": "#333333", "symbolStrokeWidth": 0.8, "symbolOpacity": 1, "labelFontSize": 13, "labelOpacity": 0, "labelExpr": "'\u00a0'", "labelOffset": 6.5, "rowPadding": 7, "padding": 0}}}},
  {"data": {"values": [{}]}, "mark": {"type": "text", "text": "E", "font": "Liberation Sans", "fontSize": 24, "fontWeight": "bold", "color": "#1a1a1a", "align": "left", "baseline": "alphabetic", "dx": -58, "dy": -9},
   "encoding": {"x": {"datum": 0, "type": "quantitative"}, "y": {"datum": 100, "type": "quantitative"}}}
 ]
}
],
"spacing": 0,
"resolve": {"scale": {"fill": "independent", "stroke": "independent", "shape": "independent", "xOffset": "independent", "x": "independent", "y": "independent"}}
},
{
 "width": 227, "height": 284,
 "layer": [
  {"data": {"name": "D"}, "transform": [{"filter": "datum.gene != 'Y65B4BR.1'"}], "mark": {"type": "rule", "color": "#c4c4c4", "strokeDash": [4, 4], "strokeWidth": 1},
   "encoding": {"x": {"field": "gene", "type": "nominal", "bandPosition": 0, "scale": {"domain": ["Y65B4BR.1","lys-5","C54F6.5","cyp-34A4","tre-5","fmo-2","F53A9.8","cpr-2","C23G10.11"], "paddingInner": 0, "paddingOuter": 0}}}},
  {"data": {"name": "D"}, "mark": {"type": "bar", "stroke": "#333333", "strokeWidth": 0.8},
   "encoding": {
    "x": {"field": "gene", "type": "nominal", "scale": {"domain": ["Y65B4BR.1","lys-5","C54F6.5","cyp-34A4","tre-5","fmo-2","F53A9.8","cpr-2","C23G10.11"], "paddingInner": 0, "paddingOuter": 0}, "axis": {"title": null, "labelAngle": -45, "labelFontSize": 10, "ticks": false, "domain": false, "labelPadding": 3, "labelOverlap": false}},
    "xOffset": {"field": "s", "type": "nominal", "scale": {"domain": ["s","sp","g"], "paddingInner": 0.18, "paddingOuter": 0.47}},
    "y": {"field": "v", "type": "quantitative", "scale": {"type": "log", "domain": [0.001, 100], "nice": false},
      "axis": {"title": null, "values": [0.001,0.002,0.003,0.004,0.005,0.006,0.007,0.008,0.009,0.01,0.02,0.03,0.04,0.05,0.06,0.07,0.08,0.09,0.1,0.2,0.3,0.4,0.5,0.6,0.7,0.8,0.9,1,2,3,4,5,6,7,8,9,10,20,30,40,50,60,70,80,90,100], "format": "~g", "labelExpr": "indexof(['0.001','0.01','0.1','1','10','100'], datum.label) >= 0 ? datum.label : ''", "tickSize": {"condition": {"test": "indexof([0.001,0.01,0.1,1,10,100], datum.value) >= 0", "value": 3}, "value": 1.5}, "labelPadding": 0, "labelFontSize": 11, "labelOverlap": false}},
    "y2": {"datum": 1},
    "fill": {"field": "s", "type": "nominal", "scale": {"domain": ["s","sp","g"], "range": ["#D8F08C","#C8C21A","#108A4D"]}, "legend": null}}},
  {"data": {"name": "D"}, "mark": {"type": "rule", "color": "#333333", "strokeWidth": 1},
   "encoding": {"x": {"field": "gene", "type": "nominal", "scale": {"domain": ["Y65B4BR.1","lys-5","C54F6.5","cyp-34A4","tre-5","fmo-2","F53A9.8","cpr-2","C23G10.11"], "paddingInner": 0, "paddingOuter": 0}}, "xOffset": {"field": "s", "type": "nominal", "scale": {"domain": ["s","sp","g"], "paddingInner": 0.18, "paddingOuter": 0.47}}, "y": {"field": "v", "type": "quantitative", "scale": {"type": "log", "domain": [0.001, 100], "nice": false}}, "y2": {"field": "e"}}},
  {"data": {"name": "D"}, "mark": {"type": "point", "shape": "M-1,0H1", "size": 16, "stroke": "#333333", "strokeWidth": 1, "filled": false, "opacity": 1},
   "encoding": {"x": {"field": "gene", "type": "nominal", "scale": {"domain": ["Y65B4BR.1","lys-5","C54F6.5","cyp-34A4","tre-5","fmo-2","F53A9.8","cpr-2","C23G10.11"], "paddingInner": 0, "paddingOuter": 0}}, "xOffset": {"field": "s", "type": "nominal", "scale": {"domain": ["s","sp","g"], "paddingInner": 0.18, "paddingOuter": 0.47}}, "y": {"field": "e", "type": "quantitative", "scale": {"type": "log", "domain": [0.001, 100], "nice": false}}}},
  {"data": {"values": [{}]}, "mark": {"type": "rule", "color": "#333333", "strokeWidth": 1},
   "encoding": {"y": {"datum": 1, "type": "quantitative", "scale": {"type": "log", "domain": [0.001, 100], "nice": false}}}},
  {"data": {"name": "D"}, "mark": {"type": "rule", "color": "#333333", "strokeWidth": 1},
   "encoding": {"x": {"field": "gene", "type": "nominal", "scale": {"domain": ["Y65B4BR.1","lys-5","C54F6.5","cyp-34A4","tre-5","fmo-2","F53A9.8","cpr-2","C23G10.11"], "paddingInner": 0, "paddingOuter": 0}}, "y": {"datum": 1, "type": "quantitative", "scale": {"type": "log", "domain": [0.001, 100], "nice": false}}, "y2": {"datum": 0.886}}},
  {"data": {"name": "Ds"}, "mark": {"type": "text", "fontSize": 18, "fontWeight": "bold", "font": "Liberation Sans", "color": "#333333", "baseline": "alphabetic", "dy": 10},
   "encoding": {"x": {"field": "gene", "type": "nominal", "scale": {"domain": ["Y65B4BR.1","lys-5","C54F6.5","cyp-34A4","tre-5","fmo-2","F53A9.8","cpr-2","C23G10.11"], "paddingInner": 0, "paddingOuter": 0}}, "xOffset": {"field": "s", "type": "nominal", "scale": {"domain": ["s","sp","g"], "paddingInner": 0.18, "paddingOuter": 0.47}}, "y": {"field": "y", "type": "quantitative", "scale": {"type": "log", "domain": [0.001, 100], "nice": false}}, "text": {"field": "t"}}},
  {"data": {"values": [{}]}, "mark": {"type": "text", "text": "D", "font": "Liberation Sans", "fontSize": 24, "fontWeight": "bold", "color": "#1a1a1a", "align": "left", "baseline": "alphabetic", "dx": -60.6, "dy": -2},
   "encoding": {"x": {"datum": "Y65B4BR.1", "type": "nominal", "scale": {"domain": ["Y65B4BR.1","lys-5","C54F6.5","cyp-34A4","tre-5","fmo-2","F53A9.8","cpr-2","C23G10.11"], "paddingInner": 0, "paddingOuter": 0}}, "y": {"datum": 100, "type": "quantitative", "scale": {"type": "log", "domain": [0.001, 100], "nice": false}}}}
 ]
}
],
"spacing": 0,
"resolve": {"scale": {"fill": "independent", "stroke": "independent", "shape": "independent", "xOffset": "independent", "x": "independent", "y": "independent"}}
}
]
}
